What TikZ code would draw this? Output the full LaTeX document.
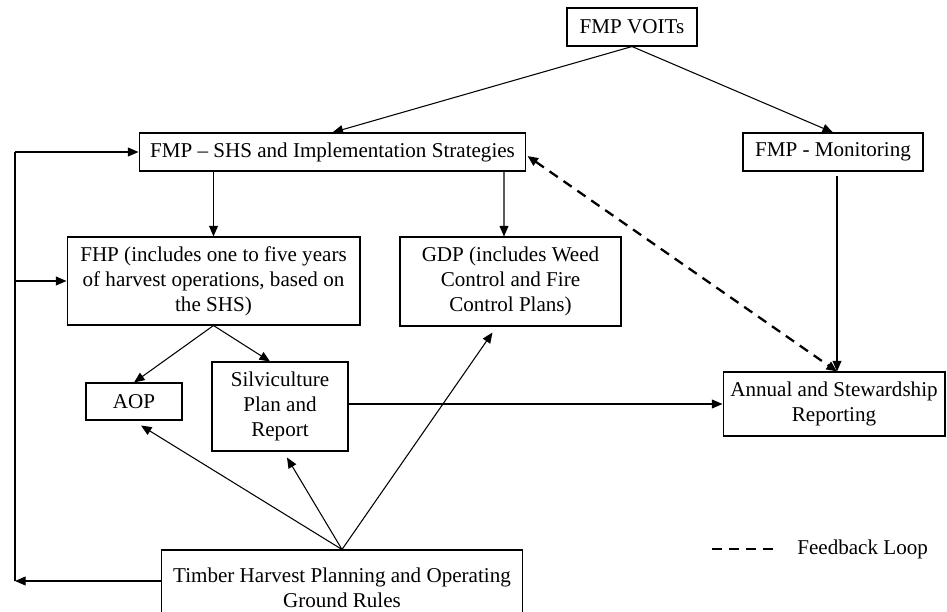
\documentclass[tikz,border=0pt]{standalone}
\usepackage{fontspec}
\setmainfont{Liberation Serif}
\usetikzlibrary{calc, positioning, arrows.meta}
\tikzset{
  % Box style
  box/.style={rectangle, draw=black, line width=0.6pt, inner sep=0pt, align=center, font=\fontsize{12}{14.2}\selectfont},
  % Connector styles
  arr/.style={-{Triangle[length=6pt, width=5pt]}, line width=0.6pt},
  fbline/.style={line width=1.3pt, dash pattern=on 5.67pt off 3.97pt},
  fbarr/.style={fbline, {Triangle[length=6pt, width=5pt]}-{Triangle[length=6pt, width=5pt]}},
  % Legend label
  leglabel/.style={font=\fontsize{12}{14.2}\selectfont, inner sep=0pt},
}

\begin{document}
\begin{tikzpicture}[x=0.02cm, y=-0.02cm]
  \useasboundingbox (0,0) rectangle (947,612);

  % --- FMP LEVEL ---
  \node[box, minimum width=2.6cm, minimum height=0.76cm] (voits) at (632,27) {FMP VOITs};
  \node[box, minimum width=7.74cm, minimum height=0.76cm] (shs) at (332.5,152) {FMP – SHS and Implementation Strategies};
  \node[box, minimum width=3.6cm, minimum height=0.76cm] (mon) at (833,152) {FMP - Monitoring};

  % --- PLANS ---
  \node[box, minimum width=5.86cm, minimum height=1.76cm] (fhp) at (213.5,281) {FHP (includes one to five years\\of harvest operations, based on\\the SHS)};
  \node[box, minimum width=4.42cm, minimum height=1.78cm] (gdp) at (510.5,281.5) {GDP (includes Weed\\Control and Fire\\Control Plans)};
  \node[box, minimum width=1.92cm, minimum height=0.74cm] (aop) at (134,401.5) {AOP};
  \node[box, minimum width=2.72cm, minimum height=1.78cm] (silv) at (280,406.5) {Silviculture\\Plan and\\Report};
  \node[box, minimum width=4.44cm, minimum height=1.28cm] (annual) at (834,404) {Annual and Stewardship\\Reporting};
  \node[box, minimum width=7.24cm, minimum height=1.5cm] (timber) at (342,587.5) {Timber Harvest Planning and Operating\\Ground Rules};

  % --- Connectors ---
  \draw[arr] (voits.south) -- (shs.north);
  \draw[arr] (voits.south) -- (mon.north);
  \draw[arr] (shs.south -| fhp.north) -- (fhp.north);
  \draw[arr] ($(shs.south)+(171.5,0)$) -- ($(gdp.north)+(-6.5,0)$);
  \draw[arr] ($(mon.south)+(4,4)$) -- ($(annual.north)+(3,0)$);
  \draw[arr] (fhp.south) -- (aop.north);
  \draw[arr] (fhp.south) -- ($(silv.north)+(-10,0)$);
  \draw[arr] (silv.east |- annual.west) -- (annual.west);
  \draw[arr] (timber.north) -- ($(aop.south)+(7,5)$);
  \draw[arr] (timber.north) -- ($(silv.south)+(7,6)$);
  \draw[arr] (timber.north) -- ($(gdp.south)+(-18,6)$);

  % Feedback loop
  \draw[fbarr] ($(shs.east)+(1,4)$) -- ($(annual.north)+(3,0)$);

  % --- Left return loop ---
  \coordinate (loopbot) at (15,581);
  \coordinate (looptop) at (15,152);
  \draw[arr] ($(timber.west)+(0,-6.5)$) -- (loopbot);
  \draw[line width=0.6pt] (loopbot) -- (looptop);
  \draw[arr] (looptop) -- (shs.west);
  \draw[arr] (fhp.west -| loopbot) -- (fhp.west);

  % --- Legend ---
  \coordinate (legA) at (712,549);
  \coordinate (legB) at (773,549);
  \draw[fbline] (legA) -- (legB);
  \node[leglabel, anchor=west] (legtext) at (797,549) {Feedback Loop};

\end{tikzpicture}
\end{document}
